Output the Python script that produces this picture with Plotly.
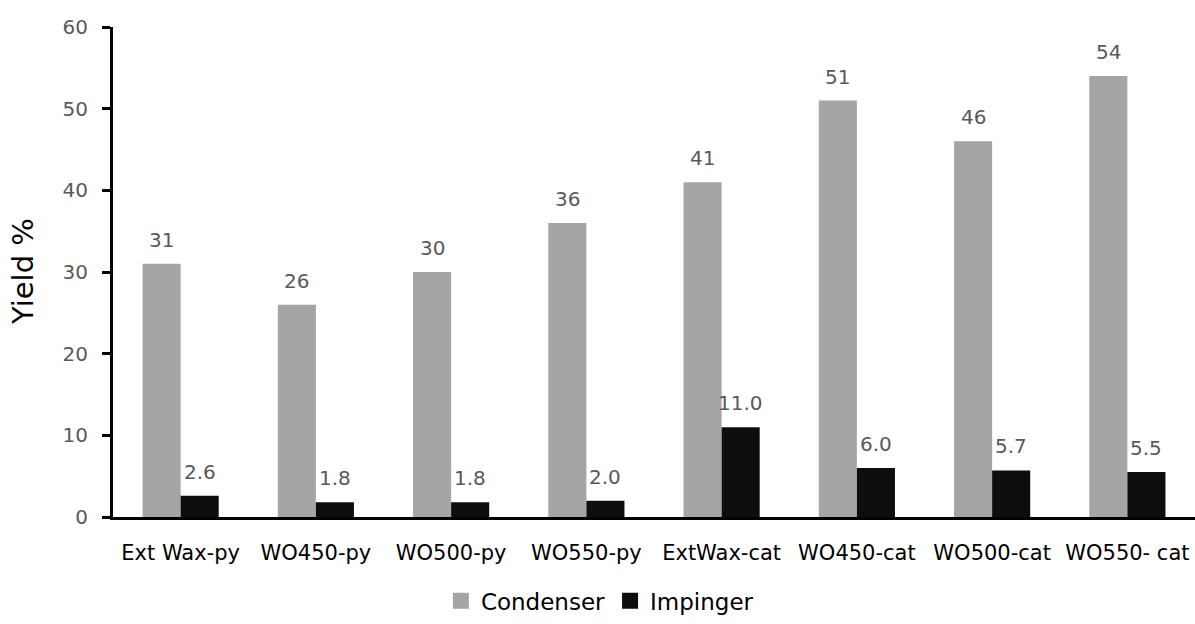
import plotly.graph_objects as go

# Samples and measured liquid yields (%)
categories = ["Ext Wax-py", "WO450-py", "WO500-py", "WO550-py",
              "ExtWax-cat", "WO450-cat", "WO500-cat", "WO550- cat"]
condenser = [31, 26, 30, 36, 41, 51, 46, 54]
impinger = [2.6, 1.8, 1.8, 2.0, 11.0, 6.0, 5.7, 5.5]
y_ticks = [0, 10, 20, 30, 40, 50, 60]

FONT = "DejaVu Sans"
GRAY = "#A5A5A5"
DARK = "#0D0D0D"

fig = go.Figure()
fig.add_trace(go.Bar(name="Condenser", x=categories, y=condenser, showlegend=False,
                     marker=dict(color=GRAY, line=dict(width=0))))
fig.add_trace(go.Bar(name="Impinger", x=categories, y=impinger, showlegend=False,
                     marker=dict(color=DARK, line=dict(width=0))))

# Legend entries with larger square swatches
for name, color in (("Condenser", GRAY), ("Impinger", DARK)):
    fig.add_trace(go.Scatter(x=[None], y=[None], mode="markers", name=name,
                             marker=dict(symbol="square", size=16, color=color,
                                         line=dict(width=0))))

# Value labels above each bar
annotations = []
for cat, c, i in zip(categories, condenser, impinger):
    annotations.append(dict(x=cat, y=c, xref="x", yref="y", text=f"{c:d}",
                            showarrow=False, xshift=-19, yshift=24,
                            yanchor="middle",
                            font=dict(family=FONT, size=20, color="#595959")))
    annotations.append(dict(x=cat, y=i, xref="x", yref="y", text=f"{i:.1f}",
                            showarrow=False, xshift=19, yshift=24,
                            yanchor="middle",
                            font=dict(family=FONT, size=20, color="#595959")))

# Y-axis title
annotations.append(dict(x=-90 / 1082, y=0.5, xref="paper", yref="paper",
                        text="Yield %", textangle=-90, showarrow=False,
                        xanchor="center", yanchor="middle",
                        font=dict(family=FONT, size=29, color="#000000")))

fig.update_layout(
    width=1195, height=624,
    margin=dict(l=113, r=0, t=27, b=107),
    paper_bgcolor="white", plot_bgcolor="white",
    barmode="group", bargap=0.437, bargroupgap=0,
    font=dict(family=FONT),
    showlegend=True,
    legend=dict(orientation="h", x=0.45, xanchor="center", y=-0.171,
                yanchor="middle", font=dict(family=FONT, size=23, color="#000000"),
                itemwidth=30, traceorder="normal"),
    annotations=annotations,
)

fig.update_xaxes(
    showline=True, linecolor="#000000", linewidth=3,
    ticks="", showgrid=False, ticklabelstandoff=15,
    tickfont=dict(family=FONT, size=21, color="#000000"),
)
fig.update_yaxes(
    range=[0, 60], tickvals=y_ticks, showline=True, linecolor="#000000",
    linewidth=3, ticks="outside", ticklen=8, tickwidth=3, tickcolor="#000000",
    showgrid=False, zeroline=False, ticklabelstandoff=10,
    tickfont=dict(family=FONT, size=20, color="#595959"),
)

fig.write_html("out.html")
